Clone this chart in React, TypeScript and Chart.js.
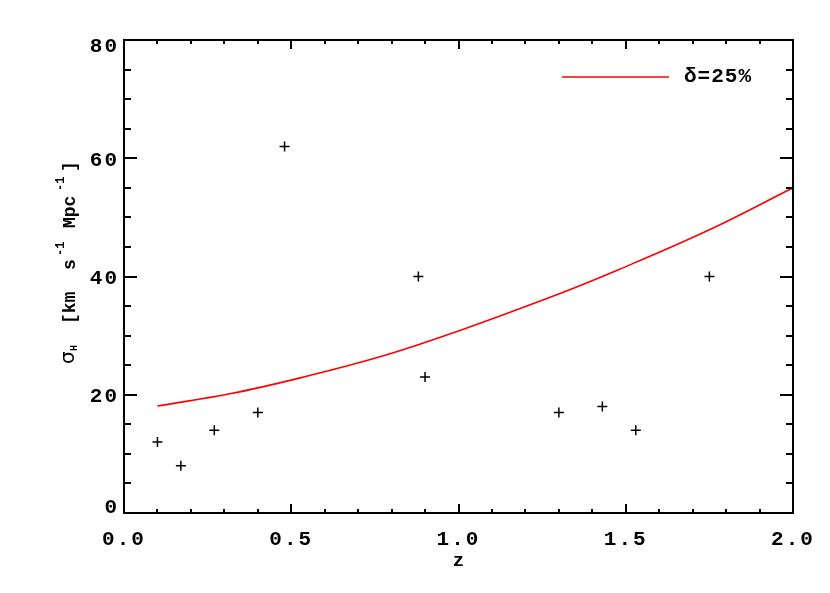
import { useEffect, useRef } from 'react';
import { Chart, registerables } from 'chart.js';

Chart.register(...registerables);

// Observed points (z, sigma_H)
const obsZ = [0.10, 0.17, 0.27, 0.40, 0.48, 0.88, 0.90, 1.30, 1.43, 1.53, 1.75];
const obsSigma = [12, 8, 14, 17, 62, 40, 23, 17, 18, 14, 40];

// Model curve
const modelZ = [0.10, 0.32, 0.53, 0.77, 1.00, 1.27, 1.48, 1.75, 2.00];
const modelSigma = [18.1, 20.2, 22.9, 26.5, 30.8, 36.4, 41.2, 47.9, 55.0];
const modelLabel = 'δ=25%';

const xTickValues = [0, 0.5, 1.0, 1.5, 2.0];
const xTickLabels = ['0.0', '0.5', '1.0', '1.5', '2.0'];
const yTickValues = [0, 20, 40, 60, 80];
const yTickLabels = ['0', '20', '40', '60', '80'];
const xTitle = 'z';

const MONO = "'Liberation Mono', 'DejaVu Sans Mono', monospace";

const framePlugin = {
  id: 'frame',
  beforeDraw(chart: any) {
    // wider character spacing, like the original's vector font
    (chart.ctx as any).letterSpacing = '2px';
  },
  afterDatasetsDraw(chart: any) {
    const { ctx, chartArea: a, scales } = chart;
    const x = scales.x;
    const y = scales.y;
    ctx.save();
    ctx.strokeStyle = '#000';
    ctx.lineWidth = 2;
    ctx.beginPath();
    ctx.rect(a.left, a.top, a.right - a.left, a.bottom - a.top);
    for (let i = 0; i <= 20; i++) {
      const px = Math.round(x.getPixelForValue(i * 0.1));
      const L = i % 5 === 0 ? 9 : 4;
      ctx.moveTo(px, a.bottom);
      ctx.lineTo(px, a.bottom - L);
      ctx.moveTo(px, a.top);
      ctx.lineTo(px, a.top + L);
    }
    for (let i = 0; i <= 16; i++) {
      const py = Math.round(y.getPixelForValue(i * 5));
      const L = i % 4 === 0 ? 13 : 7;
      ctx.moveTo(a.left, py);
      ctx.lineTo(a.left + L, py);
      ctx.moveTo(a.right, py);
      ctx.lineTo(a.right - L, py);
    }
    ctx.stroke();
    ctx.restore();
  },
  afterDraw(chart: any) {
    const { ctx, chartArea: a, scales } = chart;
    const y = scales.y;
    ctx.save();
    ctx.fillStyle = '#000';

    // y tick labels (ends kept inside the axis range, as in the original)
    ctx.letterSpacing = '2px';
    ctx.font = `bold 21px ${MONO}`;
    ctx.textAlign = 'right';
    ctx.textBaseline = 'middle';
    yTickValues.forEach((v, i) => {
      let py = y.getPixelForValue(v) + 2;
      if (i === 0) py = a.bottom - 5;
      if (i === yTickValues.length - 1) py = a.top + 7;
      ctx.fillText(yTickLabels[i], a.left - 5, py);
    });

    // x title
    ctx.letterSpacing = '0px';
    ctx.font = `bold 19px ${MONO}`;
    ctx.textAlign = 'center';
    ctx.textBaseline = 'middle';
    ctx.fillText(xTitle, (a.left + a.right) / 2, 561);

    // y title (rich text, rotated); offsets along the text run
    const segs = [
      { t: 'σ', f: `20px 'DejaVu Sans', sans-serif`, at: 0, dy: -1 },
      { t: 'H', f: `bold 10px ${MONO}`, at: 13, dy: 2 },
      { t: '[km', f: `bold 18px ${MONO}`, at: 40, dy: 0 },
      { t: 's', f: `bold 18px ${MONO}`, at: 94, dy: 0 },
      { t: '-1', f: `bold 12px ${MONO}`, at: 108, dy: -11 },
      { t: 'Mpc', f: `bold 18px ${MONO}`, at: 136, dy: 0 },
      { t: '-1', f: `bold 12px ${MONO}`, at: 173, dy: -11 },
      { t: ']', f: `bold 18px ${MONO}`, at: 192, dy: 0 },
    ];
    ctx.translate(75, 364);
    ctx.rotate(-Math.PI / 2);
    ctx.textAlign = 'left';
    ctx.textBaseline = 'alphabetic';
    segs.forEach((s) => {
      ctx.font = s.f;
      ctx.fillText(s.t, s.at, s.dy);
    });
    ctx.restore();

    // legend
    ctx.save();
    ctx.strokeStyle = '#ff0000';
    ctx.lineWidth = 1.5;
    ctx.beginPath();
    ctx.moveTo(562, 77);
    ctx.lineTo(669, 77);
    ctx.stroke();
    ctx.fillStyle = '#000';
    ctx.letterSpacing = '1px';
    ctx.font = `bold 21px ${MONO}`;
    ctx.textAlign = 'left';
    ctx.textBaseline = 'middle';
    ctx.fillText(modelLabel, 684, 77);
    ctx.restore();
  },
};

export default function App() {
  const ref = useRef<HTMLCanvasElement | null>(null);

  useEffect(() => {
    document.body.style.margin = '0';
    const canvas = ref.current;
    if (!canvas) return;
    const chart = new Chart(canvas, {
      type: 'scatter',
      data: {
        datasets: [
          {
            label: 'data',
            data: obsZ.map((z, i) => ({ x: z, y: obsSigma[i] })),
            pointStyle: 'cross',
            pointRadius: 5,
            pointBorderWidth: 1.5,
            borderColor: '#000',
            backgroundColor: '#000',
            showLine: false,
          },
          {
            label: modelLabel,
            data: modelZ.map((z, i) => ({ x: z, y: modelSigma[i] })),
            showLine: true,
            borderColor: '#ff0000',
            borderWidth: 1.6,
            pointRadius: 0,
            tension: 0.4,
          } as any,
        ],
      },
      options: {
        animation: false,
        responsive: false,
        devicePixelRatio: 1,
        layout: { padding: { left: 0, top: 40, right: 37, bottom: 0 } },
        plugins: {
          legend: { display: false },
          tooltip: { enabled: false },
        },
        scales: {
          x: {
            type: 'linear',
            min: 0,
            max: 2,
            grid: { display: false, drawTicks: false },
            border: { display: false },
            afterBuildTicks: (s: any) => {
              s.ticks = xTickValues.map((v) => ({ value: v }));
            },
            ticks: {
              padding: 14,
              color: '#000',
              font: { family: MONO, weight: 'bold', size: 21 },
              callback: (v: any) => xTickLabels[xTickValues.indexOf(Number(v))] ?? '',
              maxRotation: 0,
            },
            afterFit: (s: any) => {
              s.height = 80;
            },
          },
          y: {
            type: 'linear',
            min: 0,
            max: 80,
            grid: { display: false, drawTicks: false },
            border: { display: false },
            afterBuildTicks: (s: any) => {
              s.ticks = yTickValues.map((v) => ({ value: v }));
            },
            ticks: { display: false },
            afterFit: (s: any) => {
              s.width = 124;
            },
          },
        },
      },
      plugins: [framePlugin],
    });
    return () => chart.destroy();
  }, []);

  return (
    <div style={{ width: 830, height: 593, background: '#fff' }}>
      <canvas ref={ref} width={830} height={593} style={{ display: 'block' }} />
    </div>
  );
}
